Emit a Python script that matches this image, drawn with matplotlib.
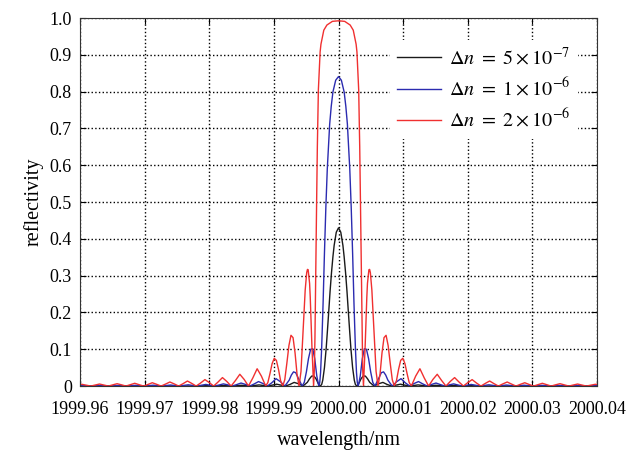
import numpy as np
import matplotlib
matplotlib.use("Agg")
import matplotlib.pyplot as plt

plt.rcParams["font.family"] = ["Liberation Serif", "DejaVu Serif"]
plt.rcParams["mathtext.fontset"] = "stix"

# Centre wavelength of the grating (nm)
center = 2000.00

# Spectra are symmetric about the centre: offset from centre (nm) and reflectivity
off_black = [0, 0.00035, 0.00068, 0.00087, 0.00109, 0.00131, 0.00152, 0.00174, 0.00191,
             0.00218, 0.00244, 0.00261, 0.00282,
             0.00315, 0.00348, 0.00382, 0.00416, 0.00449, 0.00483, 0.00551,
             0.00619, 0.00687, 0.00755, 0.00823,
             0.00959, 0.01095, 0.01232, 0.01369, 0.01505, 0.01641, 0.01777, 0.01914,
             0.02051, 0.02187, 0.04002]
r_black = [0.430, 0.418, 0.382, 0.351, 0.308, 0.257, 0.2015, 0.145, 0.103,
           0.050, 0.016, 0.0043, 0,
           0.0072, 0.0196, 0.0275, 0.027, 0.0198, 0.0101, 0,
           0.0062, 0.0099, 0.0041, 0,
           0.0051, 0, 0.0031, 0, 0.0021, 0, 0.0015, 0,
           0.0011, 0, 0]

off_blue = [0, 0.00044, 0.00087, 0.00113, 0.00137, 0.00174, 0.00196, 0.00218, 0.00239,
            0.00261, 0.00278, 0.00291, 0.00306,
            0.00337, 0.00368, 0.00400, 0.00432, 0.00465, 0.00497, 0.00530, 0.00563,
            0.00630, 0.00663, 0.00697, 0.00730, 0.00764, 0.00831,
            0.00899, 0.00967, 0.01034, 0.01101, 0.01169,
            0.01238, 0.01306, 0.01374, 0.01442, 0.01509, 0.01578, 0.01646, 0.01714,
            0.01782, 0.01850, 0.01918, 0.02055, 0.02191, 0.02327, 0.02464, 0.02600,
            0.02736, 0.02871, 0.03010, 0.03147, 0.03283, 0.03419, 0.03556, 0.03692,
            0.03828, 0.03965, 0.04002]
r_blue = [0.841, 0.831, 0.799, 0.760, 0.712, 0.590, 0.487, 0.361, 0.225,
          0.104, 0.037, 0.0092, 0,
          0.028, 0.074, 0.1014, 0.100, 0.0748, 0.039, 0.0103, 0,
          0.024, 0.0365, 0.0385, 0.030, 0.016, 0,
          0.0117, 0.020, 0.0088, 0, 0.0068,
          0.0122, 0.0057, 0, 0.0045, 0.0082, 0.0039, 0, 0.0032,
          0.0059, 0.0028, 0, 0.0044, 0, 0.0034, 0, 0.0028,
          0, 0.0023, 0, 0.0019, 0, 0.0016, 0, 0.0014,
          0, 0.0012, 0.0011]

off_red = [0, 0.00095, 0.0018, 0.00228, 0.00272, 0.00285, 0.00312, 0.00328, 0.00339,
           0.00348, 0.00357, 0.00365, 0.00374, 0.00386,
           0.00411, 0.00438, 0.00448, 0.00470, 0.00481, 0.00493, 0.00516, 0.00551,
           0.00581, 0.00611,
           0.00642, 0.00673, 0.00704, 0.00736, 0.00768, 0.00800, 0.00832, 0.00864,
           0.00897, 0.00929, 0.00962, 0.00995, 0.01028, 0.01061, 0.01094, 0.01127,
           0.01194, 0.01260, 0.01327, 0.01394, 0.01461, 0.01528, 0.01596, 0.01663,
           0.01730, 0.01797, 0.01865, 0.01933, 0.02001, 0.02068, 0.02136, 0.02204,
           0.02272, 0.02339, 0.02407, 0.02475, 0.02543, 0.02611, 0.02679, 0.02747,
           0.02815, 0.02883, 0.02951, 0.03019, 0.03087, 0.03155, 0.03223, 0.03291,
           0.03358, 0.03428, 0.03497, 0.03564, 0.03632, 0.03700, 0.03767, 0.03836,
           0.03906, 0.03972, 0.04002]
r_red = [0.9925, 0.991, 0.981, 0.967, 0.929, 0.908, 0.805, 0.650, 0.502,
         0.381, 0.251, 0.132, 0.0455, 0,
         0.103, 0.242, 0.279, 0.316, 0.317, 0.308, 0.261, 0.140,
         0.040, 0,
         0.0313, 0.090, 0.1315, 0.138, 0.110, 0.062, 0.0173, 0,
         0.0147, 0.045, 0.0698, 0.0755, 0.061, 0.034, 0.0096, 0,
         0.027, 0.047, 0.022, 0, 0.018, 0.032, 0.015, 0,
         0.0126, 0.023, 0.011, 0, 0.0094, 0.0175, 0.0082, 0,
         0.0072, 0.0137, 0.0065, 0, 0.0058, 0.011, 0.0053, 0,
         0.0047, 0.009, 0.0043, 0, 0.0039, 0.0075, 0.0036, 0,
         0.0033, 0.0064, 0.0031, 0, 0.0028, 0.0055, 0.0027, 0,
         0.0024, 0.0047, 0.0046]

labels = [r"$\Delta n\ =\ 5\times10^{-7}$",
          r"$\Delta n\ =\ 1\times10^{-6}$",
          r"$\Delta n\ =\ 2\times10^{-6}$"]
colors = ["#1a1a1a", "#2b2bb0", "#f03030"]

xticks = [1999.96, 1999.97, 1999.98, 1999.99, 2000.00, 2000.01, 2000.02, 2000.03, 2000.04]
yticks = [0, 0.1, 0.2, 0.3, 0.4, 0.5, 0.6, 0.7, 0.8, 0.9, 1.0]
ytick_labels = ["0", "0.1", "0.2", "0.3", "0.4", "0.5", "0.6", "0.7", "0.8", "0.9", "1.0"]


def full_spectrum(off, r):
    off = np.asarray(off)
    r = np.asarray(r)
    wl = center + np.concatenate([-off[::-1], off[1:]])
    return wl, np.concatenate([r[::-1], r[1:]])


fig = plt.figure(figsize=(6.31, 4.51), dpi=100)
ax = fig.add_axes([0.127, 0.144, 0.819, 0.816])

for (o, r), lab, col in zip([(off_black, r_black), (off_blue, r_blue), (off_red, r_red)],
                            labels, colors):
    wl, refl = full_spectrum(o, r)
    ax.plot(wl, refl, color=col, lw=1.0, label=lab)

ax.set_xlim(1999.96, 2000.04)
ax.set_ylim(0, 1.0)
ax.set_xticks(xticks)
ax.set_xticklabels([f"{t:.2f}" for t in xticks])
ax.set_yticks(yticks)
ax.set_yticklabels(ytick_labels)
ax.tick_params(direction="in", top=True, right=True, labelsize=13, length=4)
ax.tick_params(axis="x", pad=11)
ax.tick_params(axis="y", pad=6)
ax.grid(True, color="black", linestyle=":", linewidth=1.0)
for s in ax.spines.values():
    s.set_color("#333333")

ax.set_xlabel("wavelength/nm", fontsize=14.5, labelpad=9)
ax.set_ylabel("reflectivity", fontsize=14.5, labelpad=4)

leg = ax.legend(loc="upper right", bbox_to_anchor=(0.982, 0.967), fontsize=14.5,
                frameon=True, fancybox=False, handlelength=2.2, handletextpad=0.4,
                labelspacing=0.4, borderpad=0.35)
leg.get_frame().set_edgecolor("none")
leg.get_frame().set_facecolor("white")
leg.get_frame().set_alpha(1.0)

fig.savefig("out.png", dpi=100)
